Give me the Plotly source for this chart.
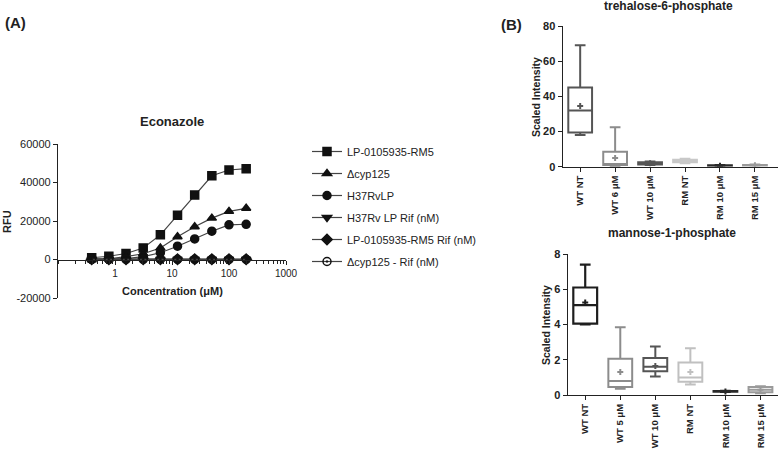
import plotly.graph_objects as go

# ---------------- Data ----------------
conc = [0.39, 0.78, 1.56, 3.125, 6.25, 12.5, 25, 50, 100, 200]
rm5 = [900, 1700, 3100, 6000, 12800, 23000, 33500, 43500, 46500, 47200]
cyp125 = [100, 400, 1500, 3000, 6000, 11800, 17000, 21500, 25000, 26600]
h37rvlp = [0, 100, 500, 1500, 3500, 6900, 10700, 14700, 18000, 18300]
h37rvlp_rif = [200, 150, 100, 100, 100, 100, 100, 100, 100, 100]
rm5_rif = [150, 100, 100, 100, 100, 100, 100, 100, 100, 100]
cyp125_rif = [100, 100, 100, 100, 100, 100, 100, 100, 100, 100]

labels_t6p = ["WT NT", "WT 6 \u03bcM", "WT 10 \u03bcM", "RM NT", "RM 10 \u03bcM", "RM 15 \u03bcM"]
t6p_low = [18, 0.3, 1.0, 2.0, 0.3, 0.5]
t6p_q1 = [19.5, 1.0, 1.3, 2.5, 0.5, 0.7]
t6p_med = [32, 1.5, 2.0, 3.2, 0.6, 0.8]
t6p_q3 = [45, 8.5, 2.5, 4.0, 0.8, 1.0]
t6p_high = [69, 22.5, 3.0, 4.5, 1.0, 1.2]
t6p_mean = [34.5, 5.0, 2.0, 3.2, 0.6, 0.8]

labels_m1p = ["WT NT", "WT 5 \u03bcM", "WT 10 \u03bcM", "RM NT", "RM 10 \u03bcM", "RM 15 \u03bcM"]
m1p_low = [4.0, 0.35, 1.05, 0.6, 0.17, 0.1]
m1p_q1 = [4.05, 0.45, 1.35, 0.75, 0.19, 0.15]
m1p_med = [5.1, 0.8, 1.6, 1.0, 0.2, 0.3]
m1p_q3 = [6.1, 2.05, 2.1, 1.85, 0.22, 0.45]
m1p_high = [7.4, 3.85, 2.75, 2.65, 0.24, 0.5]
m1p_mean = [5.25, 1.3, 1.65, 1.3, 0.2, 0.3]

t6p_colors = ["#555555", "#8c8c8c", "#555555", "#c8c8c8", "#2a2a2a", "#9a9a9a"]
m1p_colors = ["#1e1e1e", "#8c8c8c", "#555555", "#c0c0c0", "#2a2a2a", "#9a9a9a"]

FONT = "Arial, Liberation Sans, sans-serif"
W, H = 778, 449

def px(x):
    return x / W

def py(y):
    return 1 - y / H

fig = go.Figure()

# ---------------- Panel A ----------------
series = [
    ("LP-0105935-RM5", rm5, "square", 8),
    ("\u0394cyp125", cyp125, "triangle-up", 8),
    ("H37RvLP", h37rvlp, "circle", 8),
    ("H37Rv LP Rif (nM)", h37rvlp_rif, "triangle-down", 8),
    ("LP-0105935-RM5 Rif (nM)", rm5_rif, "diamond", 8),
    ("\u0394cyp125 - Rif (nM)", cyp125_rif, "circle-open-dot", 8),
]
for i, (name, vals, sym, sz) in enumerate(series):
    fig.add_trace(go.Scatter(
        x=conc, y=vals, name=name, mode="lines+markers",
        line=dict(color="#444444", width=1.2),
        marker=dict(symbol=sym, size=sz, color="#111111",
                    line=dict(color="#111111", width=1.5)),
        xaxis="x", yaxis="y", legendgroup=f"g{i}",
    ))

# ---------------- Panel B boxes ----------------
def add_boxes(xa, ya, low, q1, med, q3, high, mean, colors, lw):
    for i in range(len(low)):
        fig.add_trace(go.Box(
            x=[i], q1=[q1[i]], median=[med[i]], q3=[q3[i]],
            lowerfence=[low[i]], upperfence=[high[i]],
            width=0.68, whiskerwidth=0.45,
            line=dict(color=colors[i], width=lw[i]),
            fillcolor="rgba(255,255,255,0)",
            boxpoints=False, showlegend=False,
            xaxis=xa, yaxis=ya,
        ))
        fig.add_trace(go.Scatter(
            x=[i], y=[mean[i]], mode="markers", showlegend=False,
            marker=dict(symbol="cross", size=5, color=colors[i]),
            xaxis=xa, yaxis=ya,
        ))

add_boxes("x2", "y2", t6p_low, t6p_q1, t6p_med, t6p_q3, t6p_high, t6p_mean,
          t6p_colors, [2, 2, 2, 2, 2, 2])
add_boxes("x3", "y3", m1p_low, m1p_q1, m1p_med, m1p_q3, m1p_high, m1p_mean,
          m1p_colors, [2.2, 2, 2, 2, 2, 2])

axis_common = dict(showgrid=False, zeroline=False, showline=True,
                   linecolor="#222222", linewidth=1.3, ticks="outside",
                   tickcolor="#222222", ticklen=4, automargin=False)

fig.update_layout(
    width=W, height=H,
    margin=dict(l=0, r=0, t=0, b=0, pad=0, autoexpand=False),
    paper_bgcolor="white", plot_bgcolor="white",
    font=dict(family=FONT, color="#222222"),
    showlegend=True,
    legend=dict(x=px(307), y=py(137), xanchor="left", yanchor="top",
                font=dict(size=11, family=FONT, color="#222222"),
                bgcolor="rgba(0,0,0,0)", tracegroupgap=3),
    xaxis=dict(type="log", range=[-1, 3], domain=[px(58), px(286)],
               anchor="free", position=py(260),
               tickvals=[1, 10, 100, 1000], ticktext=["1", "10", "100", "1000"],
               tickfont=dict(size=10, color="#222222"),
               minor=dict(ticks="outside", ticklen=2.5, tickcolor="#222222", dtick="D1"),
               **axis_common),
    yaxis=dict(range=[-20000, 60000], domain=[py(298), py(144)],
               anchor="x", tickvals=[-20000, 0, 20000, 40000, 60000],
               ticktext=["-20000", "0", "20000", "40000", "60000"],
               tickfont=dict(size=11, color="#222222"),
               **axis_common),
    xaxis2=dict(range=[-0.5, 5.66], domain=[px(562.7), 1.0], anchor="y2",
                tickvals=[0, 1, 2, 3, 4, 5], ticktext=labels_t6p, tickangle=-90,
                tickfont=dict(size=9.5, color="#222222", weight="bold"),
                **axis_common),
    yaxis2=dict(range=[0, 80], domain=[py(166.7), py(26)], anchor="x2",
                tickvals=[0, 20, 40, 60, 80],
                tickfont=dict(size=11, color="#222222", weight="bold"),
                **axis_common),
    xaxis3=dict(range=[-0.5, 5.5], domain=[px(567.7), 1.0], anchor="y3",
                tickvals=[0, 1, 2, 3, 4, 5], ticktext=labels_m1p, tickangle=-90,
                tickfont=dict(size=9.5, color="#222222", weight="bold"),
                **axis_common),
    yaxis3=dict(range=[0, 8], domain=[py(395), py(254)], anchor="x3",
                tickvals=[0, 2, 4, 6, 8],
                tickfont=dict(size=11, color="#222222", weight="bold"),
                **axis_common),
)

ann = [
    dict(text="<b>(A)</b>", x=px(3), y=py(22), xanchor="left", yanchor="middle", font=dict(size=15)),
    dict(text="<b>(B)</b>", x=px(499), y=py(24), xanchor="left", yanchor="middle", font=dict(size=15)),
    dict(text="<b>Econazole</b>", x=px(172), y=py(121), xanchor="center", yanchor="middle", font=dict(size=13)),
    dict(text="<b>RFU</b>", x=px(7), y=py(222), xanchor="center", yanchor="middle", textangle=-90, font=dict(size=11)),
    dict(text="<b>Concentration (\u03bcM)</b>", x=px(172), y=py(291), xanchor="center", yanchor="middle", font=dict(size=11)),
    dict(text="<b>trehalose-6-phosphate</b>", x=px(668), y=py(6), xanchor="center", yanchor="middle", font=dict(size=12)),
    dict(text="<b>Scaled Intensity</b>", x=px(536), y=py(97), xanchor="center", yanchor="middle", textangle=-90, font=dict(size=10.5)),
    dict(text="<b>mannose-1-phosphate</b>", x=px(672), y=py(233), xanchor="center", yanchor="middle", font=dict(size=12)),
    dict(text="<b>Scaled Intensity</b>", x=px(546), y=py(325), xanchor="center", yanchor="middle", textangle=-90, font=dict(size=10.5)),
]
for a in ann:
    a.update(xref="paper", yref="paper", showarrow=False)
    a["font"] = dict(family=FONT, color="#222222", **a["font"])
fig.update_layout(annotations=ann)

fig.write_html(
    "out.html",
    config={"displayModeBar": False},
    post_script="document.body.style.margin='0';document.body.style.padding='0';"
                "document.documentElement.style.overflow='hidden';",
)
